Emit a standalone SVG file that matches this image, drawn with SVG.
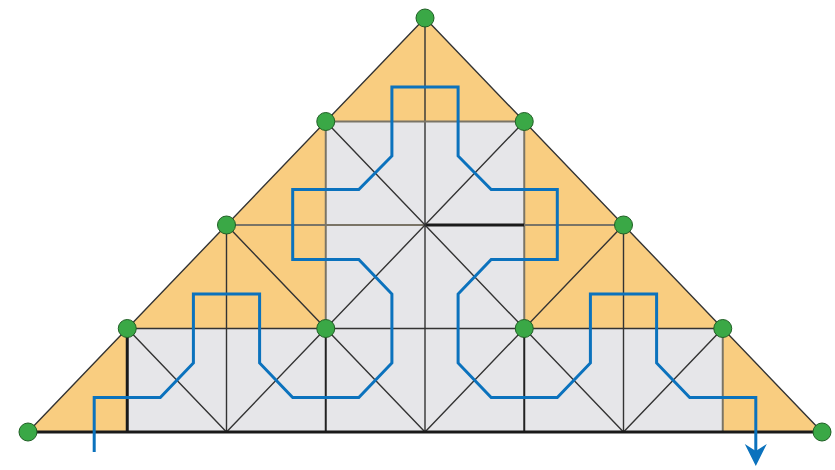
<svg xmlns="http://www.w3.org/2000/svg" width="835" height="470" viewBox="0 0 835 470">
<style>
.ln{stroke:#333333;stroke-width:1.4;fill:none;stroke-linecap:round}
.bd{stroke:#7a7466;stroke-width:2;fill:none}
.md{stroke:#222222;stroke-width:2;fill:none}
.thk{stroke:#1a1a1a;stroke-width:3;fill:none}
.dot{fill:#3aa846;stroke:#1f5f24;stroke-width:1}
.route{stroke:#0b72bd;stroke-width:3;fill:none;stroke-linejoin:miter}
</style>
<defs>
<marker id="arr" markerUnits="userSpaceOnUse" markerWidth="24" markerHeight="24" viewBox="0 -12 24 24" refX="7" refY="0" orient="auto">
<path d="M0,-11 L7,0 L0,11 L22,0 Z" fill="#0b72bd"/>
</marker>
</defs>
<rect width="835" height="470" fill="#ffffff"/>
<g id="fills">
<polygon points="28,432 425,18 822,432" fill="#f9cd80"/>
<polygon points="325.75,121.5 524.25,121.5 524.25,328.5 722.75,328.5 722.75,432 127.25,432 127.25,328.5 325.75,328.5" fill="#e6e6e9"/>
</g>
<g id="connectors">
<polyline class="ln" points="28,432 425,18 822,432"/>
<line class="ln" x1="425" y1="18" x2="425" y2="432"/>
<line class="bd" x1="325.75" y1="121.5" x2="325.75" y2="328.5"/>
<line class="bd" x1="524.25" y1="121.5" x2="524.25" y2="328.5"/>
<line class="md" x1="325.75" y1="328.5" x2="325.75" y2="432"/>
<line class="md" x1="524.25" y1="328.5" x2="524.25" y2="432"/>
<line class="ln" x1="226.5" y1="225" x2="226.5" y2="432"/>
<line class="ln" x1="623.5" y1="225" x2="623.5" y2="432"/>
<line class="thk" x1="127.25" y1="328.5" x2="127.25" y2="432"/>
<line class="bd" x1="722.75" y1="328.5" x2="722.75" y2="432"/>
<line class="bd" x1="325.75" y1="121.5" x2="524.25" y2="121.5"/>
<line class="bd" x1="226.5" y1="225" x2="425" y2="225"/>
<line class="thk" x1="425" y1="225" x2="524.25" y2="225"/>
<line class="bd" x1="524.25" y1="225" x2="623.5" y2="225"/>
<line class="ln" x1="127.25" y1="328.5" x2="722.75" y2="328.5"/>
<line class="ln" x1="325.75" y1="121.5" x2="623.5" y2="432"/>
<line class="ln" x1="524.25" y1="121.5" x2="226.5" y2="432"/>
<line class="ln" x1="226.5" y1="225" x2="425" y2="432"/>
<line class="ln" x1="623.5" y1="225" x2="425" y2="432"/>
<line class="ln" x1="127.25" y1="328.5" x2="226.5" y2="432"/>
<line class="ln" x1="722.75" y1="328.5" x2="623.5" y2="432"/>
<line class="thk" x1="28" y1="432" x2="822" y2="432"/>
</g>
<g id="route">
<path class="route" marker-end="url(#arr)" d="M94.2,452 V397.5 H160.3 L193.4,363 V294 H259.6 V363 L292.7,397.5 H358.8 L391.9,363 V294 L358.8,259.5 H292.7 V189.5 H358.8 L391.9,156 V87 H458.1 V156 L491.2,189.5 H557.3 V259.5 H491.2 L458.1,294 V363 L491.2,397.5 H557.3 L590.4,363 V294 H656.6 V363 L689.7,397.5 H755.8 V451"/>
</g>
<g id="n1"><circle class="dot" cx="425" cy="18" r="9"/></g>
<g id="n2"><circle class="dot" cx="325.75" cy="121.5" r="9"/></g>
<g id="n3"><circle class="dot" cx="524.25" cy="121.5" r="9"/></g>
<g id="n4"><circle class="dot" cx="226.5" cy="225" r="9"/></g>
<g id="n5"><circle class="dot" cx="623.5" cy="225" r="9"/></g>
<g id="n6"><circle class="dot" cx="127.25" cy="328.5" r="9"/></g>
<g id="n7"><circle class="dot" cx="325.75" cy="328.5" r="9"/></g>
<g id="n8"><circle class="dot" cx="524.25" cy="328.5" r="9"/></g>
<g id="n9"><circle class="dot" cx="722.75" cy="328.5" r="9"/></g>
<g id="n10"><circle class="dot" cx="28" cy="432" r="9"/></g>
<g id="n11"><circle class="dot" cx="822" cy="432" r="9"/></g>
</svg>
